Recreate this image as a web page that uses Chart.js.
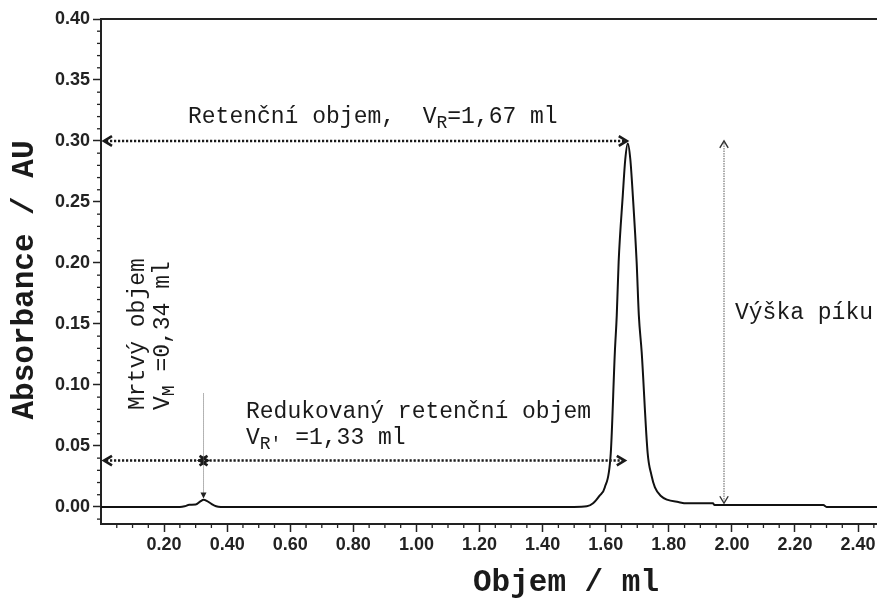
<!DOCTYPE html>
<html>
<head>
<meta charset="utf-8">
<script src="https://cdn.jsdelivr.net/npm/chart.js@4.4.0/dist/chart.umd.min.js"></script>
<style>
  html, body { margin: 0; padding: 0; background: #fff; }
  #wrap { width: 877px; height: 600px; }
</style>
</head>
<body>
<div id="wrap"><canvas id="chromChart" width="877" height="600"></canvas></div>
<script>
// chromatogram trace (volume in ml, absorbance in AU)
var volume = [0, 0.25, 0.265, 0.28, 0.30, 0.315, 0.325, 0.335, 0.35, 0.365, 0.38,
  1.50, 1.54, 1.56, 1.58, 1.597, 1.616, 1.629, 1.635, 1.641, 1.654, 1.662, 1.670,
  1.678, 1.686, 1.698, 1.705, 1.714, 1.733, 1.745, 1.756, 1.775, 1.794, 1.83, 1.857,
  1.94, 1.945, 2.29, 2.30, 2.46];
var absorbance = [0, 0, 0.0005, 0.0018, 0.002, 0.0045, 0.0058, 0.005, 0.0025, 0.0005, 0,
  0, 0.0005, 0.003, 0.009, 0.016, 0.044, 0.127, 0.157, 0.201, 0.255, 0.285, 0.298,
  0.285, 0.255, 0.201, 0.157, 0.127, 0.044, 0.026, 0.016, 0.009, 0.006, 0.004, 0.003,
  0.003, 0.0015, 0.0015, 0, 0];

// axis ticks
var xMajorTicks = [0.2, 0.4, 0.6, 0.8, 1.0, 1.2, 1.4, 1.6, 1.8, 2.0, 2.2, 2.4];
var yMajorTicks = [0, 0.05, 0.1, 0.15, 0.2, 0.25, 0.3, 0.35, 0.4];

// annotation values
var deadVol = 0.325;      // dead volume marker
var retVol = 1.67;        // retention volume (peak)
var retArrowY = 0.30;
var lowArrowY = 0.038;
var heightX = 1.975;
var heightTop = 0.30;
var heightBottom = 0.003;

var MONO = '"Liberation Mono", "Courier New", monospace';

function chevron(ctx, x, y, dir, size, lw) {
  // dir: 1 = points right, -1 = left, 2 = up, -2 = down
  ctx.save();
  ctx.setLineDash([]);
  ctx.lineWidth = lw;
  ctx.beginPath();
  if (dir === 1 || dir === -1) {
    ctx.moveTo(x - dir * size, y - size * 0.6);
    ctx.lineTo(x, y);
    ctx.lineTo(x - dir * size, y + size * 0.6);
  } else {
    var d = dir === 2 ? 1 : -1;
    ctx.moveTo(x - size * 0.6, y + d * size);
    ctx.lineTo(x, y);
    ctx.lineTo(x + size * 0.6, y + d * size);
  }
  ctx.stroke();
  ctx.restore();
}

function richText(ctx, parts, x, y) {
  // parts: [text, isSub]
  var cx = x;
  parts.forEach(function(p) {
    ctx.font = p[1] ? '18px ' + MONO : '23px ' + MONO;
    ctx.fillText(p[0], cx, p[1] ? y + 6 : y);
    cx += ctx.measureText(p[0]).width;
  });
}

function dottedArrow(ctx, x1, x2, y) {
  ctx.save();
  ctx.strokeStyle = '#1a1a1a';
  ctx.lineWidth = 2.6;
  ctx.setLineDash([2.2, 1.8]);
  ctx.beginPath();
  ctx.moveTo(x1 + 2, y);
  ctx.lineTo(x2 - 2, y);
  ctx.stroke();
  chevron(ctx, x1, y, -1, 8, 2.6);
  chevron(ctx, x2, y, 1, 8, 2.6);
  ctx.restore();
}

var annotations = {
  id: 'annotations',
  afterDraw: function(chart) {
    var ctx = chart.ctx;
    var xs = chart.scales.x, ys = chart.scales.y;
    var area = chart.chartArea;
    ctx.save();

    // top frame line
    ctx.strokeStyle = '#222';
    ctx.lineWidth = 2;
    ctx.beginPath();
    ctx.moveTo(area.left, area.top);
    ctx.lineTo(area.right, area.top);
    ctx.stroke();

    // minor ticks
    ctx.lineWidth = 1.3;
    var i, v, px;
    for (i = -1; i <= 40; i++) {
      if (i % 5 === 0) continue;
      px = ys.getPixelForValue(i / 100);
      ctx.beginPath();
      ctx.moveTo(area.left - 4, px);
      ctx.lineTo(area.left, px);
      ctx.stroke();
    }
    for (i = 1; i <= 49; i++) {
      if (i % 4 === 0) continue;
      px = xs.getPixelForValue(i * 0.05);
      ctx.beginPath();
      ctx.moveTo(px, area.bottom);
      ctx.lineTo(px, area.bottom + 4);
      ctx.stroke();
    }

    // axis titles
    ctx.fillStyle = '#1a1a1a';
    ctx.font = 'bold 31px ' + MONO;
    ctx.textAlign = 'center';
    ctx.textBaseline = 'middle';
    ctx.fillText('Objem / ml', 566, 583);
    ctx.save();
    ctx.translate(25, 280);
    ctx.rotate(-Math.PI / 2);
    ctx.fillText('Absorbance / AU', 0, 0);
    ctx.restore();

    var x0 = xs.getPixelForValue(0);
    var xd = xs.getPixelForValue(deadVol);
    var xr = xs.getPixelForValue(retVol);

    // retention volume arrow
    var yRet = ys.getPixelForValue(retArrowY);
    dottedArrow(ctx, x0 + 3, xr - 1, yRet);

    // dead volume + reduced retention volume arrows
    var yLow = ys.getPixelForValue(lowArrowY);
    dottedArrow(ctx, x0 + 3, xd + 4, yLow);
    dottedArrow(ctx, xd - 4, xr - 3, yLow);

    // dead volume marker
    ctx.strokeStyle = '#666';
    ctx.lineWidth = 1;
    ctx.setLineDash([1, 1]);
    ctx.beginPath();
    ctx.moveTo(xd, ys.getPixelForValue(0.093));
    ctx.lineTo(xd, ys.getPixelForValue(0.009));
    ctx.stroke();
    ctx.setLineDash([]);
    ctx.fillStyle = '#222';
    var tip = ys.getPixelForValue(0.007);
    ctx.beginPath();
    ctx.moveTo(xd - 3, tip - 6);
    ctx.lineTo(xd + 3, tip - 6);
    ctx.lineTo(xd, tip);
    ctx.closePath();
    ctx.fill();

    // peak height arrow
    var xh = xs.getPixelForValue(heightX);
    var yt = ys.getPixelForValue(heightTop), yb = ys.getPixelForValue(heightBottom);
    ctx.strokeStyle = '#999';
    ctx.lineWidth = 1.6;
    ctx.setLineDash([1.5, 1]);
    ctx.beginPath();
    ctx.moveTo(xh, yt + 2);
    ctx.lineTo(xh, yb - 2);
    ctx.stroke();
    ctx.strokeStyle = '#333';
    chevron(ctx, xh, yt, 2, 7, 1.4);
    chevron(ctx, xh, yb, -2, 7, 1.4);

    // labels
    ctx.fillStyle = '#1a1a1a';
    ctx.textAlign = 'left';
    ctx.textBaseline = 'middle';
    richText(ctx, [['Retenční objem,  V', false], ['R', true], ['=1,67 ml', false]], 188, 117);
    richText(ctx, [['Redukovaný retenční objem', false]], 246, 412);
    richText(ctx, [['V', false], ["R'", true], [' =1,33 ml', false]], 246, 438);
    richText(ctx, [['Výška píku', false]], 735, 313);

    ctx.save();
    ctx.translate(138, 410);
    ctx.rotate(-Math.PI / 2);
    richText(ctx, [['Mrtvý objem', false]], 0, 0);
    ctx.restore();
    ctx.save();
    ctx.translate(163, 410);
    ctx.rotate(-Math.PI / 2);
    richText(ctx, [['V', false], ['M', true], [' =0,34 ml', false]], 0, 0);
    ctx.restore();

    ctx.restore();
  }
};

var tickFont = { family: '"Liberation Sans", Arial, sans-serif', size: 18, weight: 'bold' };

new Chart(document.getElementById('chromChart'), {
  type: 'line',
  data: {
    datasets: [{
      data: volume.map(function(v, i) { return { x: v, y: absorbance[i] }; }),
      borderColor: '#111',
      borderWidth: 2,
      pointRadius: 0,
      fill: false,
      cubicInterpolationMode: 'monotone'
    }]
  },
  options: {
    responsive: false,
    animation: false,
    devicePixelRatio: 1,
    layout: { padding: { top: 19, right: 0, left: 0, bottom: 0 } },
    plugins: { legend: { display: false }, tooltip: { enabled: false } },
    scales: {
      x: {
        type: 'linear',
        min: 0,
        max: 2.46,
        afterBuildTicks: function(s) { s.ticks = xMajorTicks.map(function(v) { return { value: v }; }); },
        afterFit: function(s) { s.height = 76; s.paddingLeft = 0; s.paddingRight = 0; },
        ticks: {
          font: tickFont,
          color: '#222',
          padding: 2,
          maxRotation: 0,
          autoSkip: false,
          callback: function(v) { return Number(v).toFixed(2); }
        },
        grid: { drawOnChartArea: false, tickLength: 8, tickColor: '#222', tickWidth: 1.5 },
        border: { color: '#222', width: 2 }
      },
      y: {
        min: -0.014,
        max: 0.40,
        afterBuildTicks: function(s) { s.ticks = yMajorTicks.map(function(v) { return { value: v }; }); },
        afterFit: function(s) { s.width = 101; },
        ticks: {
          font: tickFont,
          color: '#222',
          padding: 3,
          autoSkip: false,
          callback: function(v) { return Number(v).toFixed(2); }
        },
        grid: { drawOnChartArea: false, tickLength: 8, tickColor: '#222', tickWidth: 1.5 },
        border: { color: '#222', width: 2 }
      }
    }
  },
  plugins: [annotations]
});
</script>
</body>
</html>
